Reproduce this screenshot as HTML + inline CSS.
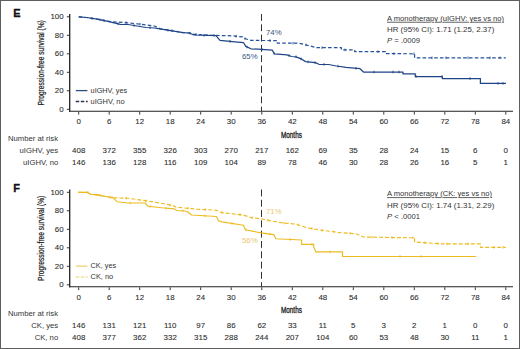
<!DOCTYPE html>
<html><head><meta charset="utf-8"><style>
html,body{margin:0;padding:0;background:#fff;}
body{width:520px;height:349px;overflow:hidden;}
svg{display:block;font-family:"Liberation Sans", sans-serif;}
text{paint-order:stroke;}
text[fill="#2a2a2a"]{stroke:#2a2a2a;stroke-width:0.08px;}
</style></head><body>
<svg width="520" height="349" viewBox="0 0 520 349">
<rect x="0" y="0" width="520" height="349" fill="#fff"/>
<rect x="0.5" y="0.5" width="519" height="348" fill="none" stroke="#5e5e5e" stroke-width="1"/>
<text x="13.2" y="16.8" font-size="11" font-weight="bold" fill="#111" stroke="#111" stroke-width="0.3">E</text>
<line x1="69.7" y1="14.0" x2="69.7" y2="111.8" stroke="#222" stroke-width="1.3"/>
<line x1="69" y1="111.3" x2="513" y2="111.3" stroke="#222" stroke-width="1.1"/>
<line x1="66.8" y1="16.8" x2="69.5" y2="16.8" stroke="#222" stroke-width="0.9"/>
<text x="63.6" y="19.4" font-size="7.9" text-anchor="end" fill="#2a2a2a">100</text>
<line x1="66.8" y1="35.3" x2="69.5" y2="35.3" stroke="#222" stroke-width="0.9"/>
<text x="63.6" y="37.9" font-size="7.9" text-anchor="end" fill="#2a2a2a">80</text>
<line x1="66.8" y1="53.8" x2="69.5" y2="53.8" stroke="#222" stroke-width="0.9"/>
<text x="63.6" y="56.4" font-size="7.9" text-anchor="end" fill="#2a2a2a">60</text>
<line x1="66.8" y1="72.3" x2="69.5" y2="72.3" stroke="#222" stroke-width="0.9"/>
<text x="63.6" y="74.9" font-size="7.9" text-anchor="end" fill="#2a2a2a">40</text>
<line x1="66.8" y1="90.8" x2="69.5" y2="90.8" stroke="#222" stroke-width="0.9"/>
<text x="63.6" y="93.4" font-size="7.9" text-anchor="end" fill="#2a2a2a">20</text>
<line x1="66.8" y1="109.3" x2="69.5" y2="109.3" stroke="#222" stroke-width="0.9"/>
<text x="63.6" y="111.9" font-size="7.9" text-anchor="end" fill="#2a2a2a">0</text>
<line x1="78.7" y1="111.8" x2="78.7" y2="114.6" stroke="#222" stroke-width="0.9"/>
<text x="78.7" y="124.4" font-size="7.9" text-anchor="middle" fill="#2a2a2a">0</text>
<line x1="109.2" y1="111.8" x2="109.2" y2="114.6" stroke="#222" stroke-width="0.9"/>
<text x="109.2" y="124.4" font-size="7.9" text-anchor="middle" fill="#2a2a2a">6</text>
<line x1="139.7" y1="111.8" x2="139.7" y2="114.6" stroke="#222" stroke-width="0.9"/>
<text x="139.7" y="124.4" font-size="7.9" text-anchor="middle" fill="#2a2a2a">12</text>
<line x1="170.2" y1="111.8" x2="170.2" y2="114.6" stroke="#222" stroke-width="0.9"/>
<text x="170.2" y="124.4" font-size="7.9" text-anchor="middle" fill="#2a2a2a">18</text>
<line x1="200.7" y1="111.8" x2="200.7" y2="114.6" stroke="#222" stroke-width="0.9"/>
<text x="200.7" y="124.4" font-size="7.9" text-anchor="middle" fill="#2a2a2a">24</text>
<line x1="231.2" y1="111.8" x2="231.2" y2="114.6" stroke="#222" stroke-width="0.9"/>
<text x="231.2" y="124.4" font-size="7.9" text-anchor="middle" fill="#2a2a2a">30</text>
<line x1="261.8" y1="111.8" x2="261.8" y2="114.6" stroke="#222" stroke-width="0.9"/>
<text x="261.8" y="124.4" font-size="7.9" text-anchor="middle" fill="#2a2a2a">36</text>
<line x1="292.3" y1="111.8" x2="292.3" y2="114.6" stroke="#222" stroke-width="0.9"/>
<text x="292.3" y="124.4" font-size="7.9" text-anchor="middle" fill="#2a2a2a">42</text>
<line x1="322.8" y1="111.8" x2="322.8" y2="114.6" stroke="#222" stroke-width="0.9"/>
<text x="322.8" y="124.4" font-size="7.9" text-anchor="middle" fill="#2a2a2a">48</text>
<line x1="353.3" y1="111.8" x2="353.3" y2="114.6" stroke="#222" stroke-width="0.9"/>
<text x="353.3" y="124.4" font-size="7.9" text-anchor="middle" fill="#2a2a2a">54</text>
<line x1="383.8" y1="111.8" x2="383.8" y2="114.6" stroke="#222" stroke-width="0.9"/>
<text x="383.8" y="124.4" font-size="7.9" text-anchor="middle" fill="#2a2a2a">60</text>
<line x1="414.3" y1="111.8" x2="414.3" y2="114.6" stroke="#222" stroke-width="0.9"/>
<text x="414.3" y="124.4" font-size="7.9" text-anchor="middle" fill="#2a2a2a">66</text>
<line x1="444.8" y1="111.8" x2="444.8" y2="114.6" stroke="#222" stroke-width="0.9"/>
<text x="444.8" y="124.4" font-size="7.9" text-anchor="middle" fill="#2a2a2a">72</text>
<line x1="475.3" y1="111.8" x2="475.3" y2="114.6" stroke="#222" stroke-width="0.9"/>
<text x="475.3" y="124.4" font-size="7.9" text-anchor="middle" fill="#2a2a2a">78</text>
<line x1="505.8" y1="111.8" x2="505.8" y2="114.6" stroke="#222" stroke-width="0.9"/>
<text x="505.8" y="124.4" font-size="7.9" text-anchor="middle" fill="#2a2a2a">84</text>
<text x="280.9" y="137.6" font-size="9.6" fill="#222" stroke="#222" stroke-width="0.35" textLength="21" lengthAdjust="spacingAndGlyphs">Months</text>
<text x="0" y="0" font-size="8.8" fill="#222" stroke="#222" stroke-width="0.22" textLength="85.2" lengthAdjust="spacingAndGlyphs" transform="translate(44.1 105.4) rotate(-90)">Progression-free survival (%)</text>
<line x1="261.5" y1="14.0" x2="261.5" y2="111.0" stroke="#333" stroke-width="1" stroke-dasharray="6.9 3.4"/>
<polyline points="78.7,16.8 86.6,17.5 97.2,19.2 104.6,20.7 111.0,21.7 128.0,22.8 146.0,24.9 154.5,26.0 159.7,28.6 183.0,32.6 189.5,33.0 193.8,34.3 211.7,35.3 232.0,35.8 242.6,36.9 244.7,38.5 251.0,40.4 277.3,40.6 277.3,43.2 299.2,43.2 316.5,47.6 341.4,47.7 341.4,49.9 354.7,49.9 354.7,51.7 385.6,51.7 385.6,53.6 414.6,53.8 414.6,57.8 505.8,57.8" fill="none" stroke="#26529a" stroke-width="1.2" stroke-dasharray="3.6 2.2" stroke-linejoin="round"/>
<polyline points="78.7,16.8 86.6,17.5 97.2,19.2 104.6,20.7 120.4,24.3 128.0,24.5 146.0,27.5 154.5,28.0 159.7,28.8 183.0,32.6 189.5,33.0 193.8,35.0 216.0,35.6 220.0,40.3 235.0,41.9 243.6,42.7 245.8,46.4 251.0,48.8 272.2,50.1 274.3,53.8 287.0,54.9 291.6,56.5 296.0,56.8 301.8,59.2 305.6,61.6 315.2,62.6 319.0,64.3 328.7,64.5 336.4,66.0 346.0,67.4 360.0,68.7 363.5,72.0 403.0,72.0 403.0,73.9 415.3,73.9 415.3,76.5 442.3,76.5 442.3,78.5 480.4,78.5 480.4,83.4 506.0,83.4" fill="none" stroke="#1f4586" stroke-width="1.25" stroke-linejoin="round"/>
<line x1="92.0" y1="17.1" x2="92.0" y2="19.7" stroke="#1f4586" stroke-width="0.9"/>
<line x1="104.0" y1="19.3" x2="104.0" y2="21.9" stroke="#1f4586" stroke-width="0.9"/>
<line x1="118.0" y1="22.5" x2="118.0" y2="25.1" stroke="#1f4586" stroke-width="0.9"/>
<line x1="134.0" y1="24.2" x2="134.0" y2="26.8" stroke="#1f4586" stroke-width="0.9"/>
<line x1="150.0" y1="26.4" x2="150.0" y2="29.0" stroke="#1f4586" stroke-width="0.9"/>
<line x1="168.0" y1="28.9" x2="168.0" y2="31.5" stroke="#1f4586" stroke-width="0.9"/>
<line x1="190.0" y1="31.9" x2="190.0" y2="34.5" stroke="#1f4586" stroke-width="0.9"/>
<line x1="204.0" y1="34.0" x2="204.0" y2="36.6" stroke="#1f4586" stroke-width="0.9"/>
<line x1="230.0" y1="40.1" x2="230.0" y2="42.7" stroke="#1f4586" stroke-width="0.9"/>
<line x1="247.0" y1="45.7" x2="247.0" y2="48.3" stroke="#1f4586" stroke-width="0.9"/>
<line x1="262.0" y1="48.2" x2="262.0" y2="50.8" stroke="#1f4586" stroke-width="0.9"/>
<line x1="274.0" y1="52.0" x2="274.0" y2="54.6" stroke="#1f4586" stroke-width="0.9"/>
<line x1="289.0" y1="54.3" x2="289.0" y2="56.9" stroke="#1f4586" stroke-width="0.9"/>
<line x1="296.0" y1="55.5" x2="296.0" y2="58.1" stroke="#1f4586" stroke-width="0.9"/>
<line x1="301.0" y1="57.6" x2="301.0" y2="60.2" stroke="#1f4586" stroke-width="0.9"/>
<line x1="308.0" y1="60.6" x2="308.0" y2="63.1" stroke="#1f4586" stroke-width="0.9"/>
<line x1="315.0" y1="61.3" x2="315.0" y2="63.9" stroke="#1f4586" stroke-width="0.9"/>
<line x1="324.0" y1="63.1" x2="324.0" y2="65.7" stroke="#1f4586" stroke-width="0.9"/>
<line x1="338.0" y1="64.9" x2="338.0" y2="67.5" stroke="#1f4586" stroke-width="0.9"/>
<line x1="356.0" y1="67.0" x2="356.0" y2="69.6" stroke="#1f4586" stroke-width="0.9"/>
<line x1="374.0" y1="70.7" x2="374.0" y2="73.3" stroke="#1f4586" stroke-width="0.9"/>
<line x1="393.0" y1="70.7" x2="393.0" y2="73.3" stroke="#1f4586" stroke-width="0.9"/>
<line x1="399.0" y1="70.7" x2="399.0" y2="73.3" stroke="#1f4586" stroke-width="0.9"/>
<line x1="416.0" y1="75.2" x2="416.0" y2="77.8" stroke="#1f4586" stroke-width="0.9"/>
<line x1="442.0" y1="75.2" x2="442.0" y2="77.8" stroke="#1f4586" stroke-width="0.9"/>
<line x1="470.0" y1="77.2" x2="470.0" y2="79.8" stroke="#1f4586" stroke-width="0.9"/>
<line x1="498.0" y1="82.1" x2="498.0" y2="84.7" stroke="#1f4586" stroke-width="0.9"/>
<line x1="503.0" y1="82.1" x2="503.0" y2="84.7" stroke="#1f4586" stroke-width="0.9"/>
<line x1="100.0" y1="18.5" x2="100.0" y2="21.1" stroke="#26529a" stroke-width="0.9"/>
<line x1="126.0" y1="21.4" x2="126.0" y2="24.0" stroke="#26529a" stroke-width="0.9"/>
<line x1="140.0" y1="22.9" x2="140.0" y2="25.5" stroke="#26529a" stroke-width="0.9"/>
<line x1="172.0" y1="29.4" x2="172.0" y2="32.0" stroke="#26529a" stroke-width="0.9"/>
<line x1="196.0" y1="33.1" x2="196.0" y2="35.7" stroke="#26529a" stroke-width="0.9"/>
<line x1="214.0" y1="34.1" x2="214.0" y2="36.7" stroke="#26529a" stroke-width="0.9"/>
<line x1="236.0" y1="34.9" x2="236.0" y2="37.5" stroke="#26529a" stroke-width="0.9"/>
<line x1="245.0" y1="37.3" x2="245.0" y2="39.9" stroke="#26529a" stroke-width="0.9"/>
<line x1="270.0" y1="39.2" x2="270.0" y2="41.8" stroke="#26529a" stroke-width="0.9"/>
<line x1="293.0" y1="41.9" x2="293.0" y2="44.5" stroke="#26529a" stroke-width="0.9"/>
<line x1="306.0" y1="43.6" x2="306.0" y2="46.2" stroke="#26529a" stroke-width="0.9"/>
<line x1="322.0" y1="46.3" x2="322.0" y2="48.9" stroke="#26529a" stroke-width="0.9"/>
<line x1="345.0" y1="48.6" x2="345.0" y2="51.2" stroke="#26529a" stroke-width="0.9"/>
<line x1="378.0" y1="50.4" x2="378.0" y2="53.0" stroke="#26529a" stroke-width="0.9"/>
<line x1="394.0" y1="52.4" x2="394.0" y2="55.0" stroke="#26529a" stroke-width="0.9"/>
<line x1="414.0" y1="52.5" x2="414.0" y2="55.1" stroke="#26529a" stroke-width="0.9"/>
<line x1="432.0" y1="56.5" x2="432.0" y2="59.1" stroke="#26529a" stroke-width="0.9"/>
<line x1="446.0" y1="56.5" x2="446.0" y2="59.1" stroke="#26529a" stroke-width="0.9"/>
<line x1="468.0" y1="56.5" x2="468.0" y2="59.1" stroke="#26529a" stroke-width="0.9"/>
<line x1="490.0" y1="56.5" x2="490.0" y2="59.1" stroke="#26529a" stroke-width="0.9"/>
<line x1="500.0" y1="56.5" x2="500.0" y2="59.1" stroke="#26529a" stroke-width="0.9"/>
<text x="266" y="34.8" font-size="7.8" fill="#3d5478">74%</text>
<text x="242" y="59.4" font-size="7.8" fill="#375a8a">65%</text>
<line x1="75.8" y1="90.6" x2="87.4" y2="90.6" stroke="#2c4f80" stroke-width="1.3"/>
<line x1="75.7" y1="101.5" x2="87.7" y2="101.5" stroke="#283650" stroke-width="1.3" stroke-dasharray="3.5 1.6"/>
<text x="90.6" y="92.9" font-size="7.6" fill="#333"  textLength="36.6" lengthAdjust="spacingAndGlyphs">uIGHV, yes</text>
<text x="90.6" y="103.9" font-size="7.6" fill="#333"  textLength="34" lengthAdjust="spacingAndGlyphs">uIGHV, no</text>
<text x="387" y="20.8" font-size="7.6" fill="#333" text-decoration="underline">A monotherapy (uIGHV: yes vs no)</text>
<text x="387" y="32.2" font-size="7.7" fill="#333" textLength="107.3" lengthAdjust="spacingAndGlyphs">HR (95% CI): 1.71 (1.25, 2.37)</text>
<text x="387" y="43.2" font-size="7.7" fill="#333"><tspan font-style="italic">P</tspan> = .0009</text>
<text x="8" y="140.6" font-size="7.7" fill="#333">Number at risk</text>
<text x="58.2" y="152.8" font-size="7.7" text-anchor="end" fill="#333">uIGHV, yes</text>
<text x="58.2" y="164.6" font-size="7.7" text-anchor="end" fill="#333">uIGHV, no</text>
<text x="78.7" y="152.8" font-size="7.9" text-anchor="middle" fill="#2a2a2a">408</text>
<text x="109.2" y="152.8" font-size="7.9" text-anchor="middle" fill="#2a2a2a">372</text>
<text x="139.7" y="152.8" font-size="7.9" text-anchor="middle" fill="#2a2a2a">355</text>
<text x="170.2" y="152.8" font-size="7.9" text-anchor="middle" fill="#2a2a2a">326</text>
<text x="200.7" y="152.8" font-size="7.9" text-anchor="middle" fill="#2a2a2a">303</text>
<text x="231.2" y="152.8" font-size="7.9" text-anchor="middle" fill="#2a2a2a">270</text>
<text x="261.8" y="152.8" font-size="7.9" text-anchor="middle" fill="#2a2a2a">217</text>
<text x="292.3" y="152.8" font-size="7.9" text-anchor="middle" fill="#2a2a2a">162</text>
<text x="322.8" y="152.8" font-size="7.9" text-anchor="middle" fill="#2a2a2a">69</text>
<text x="353.3" y="152.8" font-size="7.9" text-anchor="middle" fill="#2a2a2a">35</text>
<text x="383.8" y="152.8" font-size="7.9" text-anchor="middle" fill="#2a2a2a">28</text>
<text x="414.3" y="152.8" font-size="7.9" text-anchor="middle" fill="#2a2a2a">24</text>
<text x="444.8" y="152.8" font-size="7.9" text-anchor="middle" fill="#2a2a2a">15</text>
<text x="475.3" y="152.8" font-size="7.9" text-anchor="middle" fill="#2a2a2a">6</text>
<text x="505.8" y="152.8" font-size="7.9" text-anchor="middle" fill="#2a2a2a">0</text>
<text x="78.7" y="164.6" font-size="7.9" text-anchor="middle" fill="#2a2a2a">146</text>
<text x="109.2" y="164.6" font-size="7.9" text-anchor="middle" fill="#2a2a2a">136</text>
<text x="139.7" y="164.6" font-size="7.9" text-anchor="middle" fill="#2a2a2a">128</text>
<text x="170.2" y="164.6" font-size="7.9" text-anchor="middle" fill="#2a2a2a">116</text>
<text x="200.7" y="164.6" font-size="7.9" text-anchor="middle" fill="#2a2a2a">109</text>
<text x="231.2" y="164.6" font-size="7.9" text-anchor="middle" fill="#2a2a2a">104</text>
<text x="261.8" y="164.6" font-size="7.9" text-anchor="middle" fill="#2a2a2a">89</text>
<text x="292.3" y="164.6" font-size="7.9" text-anchor="middle" fill="#2a2a2a">78</text>
<text x="322.8" y="164.6" font-size="7.9" text-anchor="middle" fill="#2a2a2a">46</text>
<text x="353.3" y="164.6" font-size="7.9" text-anchor="middle" fill="#2a2a2a">30</text>
<text x="383.8" y="164.6" font-size="7.9" text-anchor="middle" fill="#2a2a2a">28</text>
<text x="414.3" y="164.6" font-size="7.9" text-anchor="middle" fill="#2a2a2a">26</text>
<text x="444.8" y="164.6" font-size="7.9" text-anchor="middle" fill="#2a2a2a">16</text>
<text x="475.3" y="164.6" font-size="7.9" text-anchor="middle" fill="#2a2a2a">5</text>
<text x="505.8" y="164.6" font-size="7.9" text-anchor="middle" fill="#2a2a2a">1</text>
<text x="13.2" y="192.3" font-size="11" font-weight="bold" fill="#111" stroke="#111" stroke-width="0.3">F</text>
<line x1="69.7" y1="189.5" x2="69.7" y2="287.3" stroke="#222" stroke-width="1.3"/>
<line x1="69" y1="286.8" x2="513" y2="286.8" stroke="#222" stroke-width="1.1"/>
<line x1="66.8" y1="192.3" x2="69.5" y2="192.3" stroke="#222" stroke-width="0.9"/>
<text x="63.6" y="194.9" font-size="7.9" text-anchor="end" fill="#2a2a2a">100</text>
<line x1="66.8" y1="210.8" x2="69.5" y2="210.8" stroke="#222" stroke-width="0.9"/>
<text x="63.6" y="213.4" font-size="7.9" text-anchor="end" fill="#2a2a2a">80</text>
<line x1="66.8" y1="229.3" x2="69.5" y2="229.3" stroke="#222" stroke-width="0.9"/>
<text x="63.6" y="231.9" font-size="7.9" text-anchor="end" fill="#2a2a2a">60</text>
<line x1="66.8" y1="247.8" x2="69.5" y2="247.8" stroke="#222" stroke-width="0.9"/>
<text x="63.6" y="250.4" font-size="7.9" text-anchor="end" fill="#2a2a2a">40</text>
<line x1="66.8" y1="266.3" x2="69.5" y2="266.3" stroke="#222" stroke-width="0.9"/>
<text x="63.6" y="268.9" font-size="7.9" text-anchor="end" fill="#2a2a2a">20</text>
<line x1="66.8" y1="284.8" x2="69.5" y2="284.8" stroke="#222" stroke-width="0.9"/>
<text x="63.6" y="287.4" font-size="7.9" text-anchor="end" fill="#2a2a2a">0</text>
<line x1="78.7" y1="287.3" x2="78.7" y2="290.1" stroke="#222" stroke-width="0.9"/>
<text x="78.7" y="299.9" font-size="7.9" text-anchor="middle" fill="#2a2a2a">0</text>
<line x1="109.2" y1="287.3" x2="109.2" y2="290.1" stroke="#222" stroke-width="0.9"/>
<text x="109.2" y="299.9" font-size="7.9" text-anchor="middle" fill="#2a2a2a">6</text>
<line x1="139.7" y1="287.3" x2="139.7" y2="290.1" stroke="#222" stroke-width="0.9"/>
<text x="139.7" y="299.9" font-size="7.9" text-anchor="middle" fill="#2a2a2a">12</text>
<line x1="170.2" y1="287.3" x2="170.2" y2="290.1" stroke="#222" stroke-width="0.9"/>
<text x="170.2" y="299.9" font-size="7.9" text-anchor="middle" fill="#2a2a2a">18</text>
<line x1="200.7" y1="287.3" x2="200.7" y2="290.1" stroke="#222" stroke-width="0.9"/>
<text x="200.7" y="299.9" font-size="7.9" text-anchor="middle" fill="#2a2a2a">24</text>
<line x1="231.2" y1="287.3" x2="231.2" y2="290.1" stroke="#222" stroke-width="0.9"/>
<text x="231.2" y="299.9" font-size="7.9" text-anchor="middle" fill="#2a2a2a">30</text>
<line x1="261.8" y1="287.3" x2="261.8" y2="290.1" stroke="#222" stroke-width="0.9"/>
<text x="261.8" y="299.9" font-size="7.9" text-anchor="middle" fill="#2a2a2a">36</text>
<line x1="292.3" y1="287.3" x2="292.3" y2="290.1" stroke="#222" stroke-width="0.9"/>
<text x="292.3" y="299.9" font-size="7.9" text-anchor="middle" fill="#2a2a2a">42</text>
<line x1="322.8" y1="287.3" x2="322.8" y2="290.1" stroke="#222" stroke-width="0.9"/>
<text x="322.8" y="299.9" font-size="7.9" text-anchor="middle" fill="#2a2a2a">48</text>
<line x1="353.3" y1="287.3" x2="353.3" y2="290.1" stroke="#222" stroke-width="0.9"/>
<text x="353.3" y="299.9" font-size="7.9" text-anchor="middle" fill="#2a2a2a">54</text>
<line x1="383.8" y1="287.3" x2="383.8" y2="290.1" stroke="#222" stroke-width="0.9"/>
<text x="383.8" y="299.9" font-size="7.9" text-anchor="middle" fill="#2a2a2a">60</text>
<line x1="414.3" y1="287.3" x2="414.3" y2="290.1" stroke="#222" stroke-width="0.9"/>
<text x="414.3" y="299.9" font-size="7.9" text-anchor="middle" fill="#2a2a2a">66</text>
<line x1="444.8" y1="287.3" x2="444.8" y2="290.1" stroke="#222" stroke-width="0.9"/>
<text x="444.8" y="299.9" font-size="7.9" text-anchor="middle" fill="#2a2a2a">72</text>
<line x1="475.3" y1="287.3" x2="475.3" y2="290.1" stroke="#222" stroke-width="0.9"/>
<text x="475.3" y="299.9" font-size="7.9" text-anchor="middle" fill="#2a2a2a">78</text>
<line x1="505.8" y1="287.3" x2="505.8" y2="290.1" stroke="#222" stroke-width="0.9"/>
<text x="505.8" y="299.9" font-size="7.9" text-anchor="middle" fill="#2a2a2a">84</text>
<text x="280.9" y="313.1" font-size="9.6" fill="#222" stroke="#222" stroke-width="0.35" textLength="21" lengthAdjust="spacingAndGlyphs">Months</text>
<text x="0" y="0" font-size="8.8" fill="#222" stroke="#222" stroke-width="0.22" textLength="85.2" lengthAdjust="spacingAndGlyphs" transform="translate(44.1 280.9) rotate(-90)">Progression-free survival (%)</text>
<line x1="261.5" y1="189.5" x2="261.5" y2="286.5" stroke="#333" stroke-width="1" stroke-dasharray="6.9 3.4"/>
<polyline points="78.2,192.4 87.6,192.4 90.8,194.3 97.2,194.9 105.6,196.5 113.0,197.7 128.0,198.3 147.0,200.9 159.7,203.0 173.5,205.7 176.0,207.2 197.3,209.2 216.5,210.2 222.3,212.7 230.0,213.5 243.5,215.1 252.0,217.8 261.0,218.7 273.0,221.3 283.5,223.0 295.0,224.0 302.7,226.2 307.0,227.8 320.0,230.0 340.0,232.6 355.8,233.7 363.5,237.0 395.0,237.6 414.6,237.8 414.6,242.0 441.0,243.8 480.4,243.8 480.4,247.3 505.8,247.3" fill="none" stroke="#ecbb22" stroke-width="1.15" stroke-dasharray="4 2" stroke-linejoin="round"/>
<polyline points="78.2,192.4 87.6,192.4 90.8,194.3 97.2,194.9 105.6,196.5 113.0,197.7 117.3,201.8 128.0,203.0 145.0,203.0 148.0,206.2 161.9,207.8 174.6,208.9 176.7,210.5 185.0,211.0 188.0,212.0 191.5,215.0 216.5,216.5 218.5,220.8 222.0,221.9 243.5,225.2 245.3,229.8 261.0,232.9 273.8,234.6 275.8,238.8 297.0,239.8 301.6,240.0 301.6,244.4 313.7,244.4 313.7,247.0 316.0,251.9 342.5,251.9 342.5,256.5 476.2,256.5" fill="none" stroke="#ecbb22" stroke-width="1.15" stroke-linejoin="round"/>
<line x1="88.0" y1="191.3" x2="88.0" y2="193.9" stroke="#ecbb22" stroke-width="0.9"/>
<line x1="100.0" y1="194.1" x2="100.0" y2="196.7" stroke="#ecbb22" stroke-width="0.9"/>
<line x1="112.0" y1="196.2" x2="112.0" y2="198.8" stroke="#ecbb22" stroke-width="0.9"/>
<line x1="130.0" y1="201.7" x2="130.0" y2="204.3" stroke="#ecbb22" stroke-width="0.9"/>
<line x1="150.0" y1="205.1" x2="150.0" y2="207.7" stroke="#ecbb22" stroke-width="0.9"/>
<line x1="166.0" y1="206.9" x2="166.0" y2="209.5" stroke="#ecbb22" stroke-width="0.9"/>
<line x1="183.0" y1="209.6" x2="183.0" y2="212.2" stroke="#ecbb22" stroke-width="0.9"/>
<line x1="205.0" y1="214.5" x2="205.0" y2="217.1" stroke="#ecbb22" stroke-width="0.9"/>
<line x1="232.0" y1="222.1" x2="232.0" y2="224.7" stroke="#ecbb22" stroke-width="0.9"/>
<line x1="246.0" y1="228.6" x2="246.0" y2="231.2" stroke="#ecbb22" stroke-width="0.9"/>
<line x1="270.0" y1="232.8" x2="270.0" y2="235.4" stroke="#ecbb22" stroke-width="0.9"/>
<line x1="290.0" y1="238.2" x2="290.0" y2="240.8" stroke="#ecbb22" stroke-width="0.9"/>
<line x1="312.0" y1="243.1" x2="312.0" y2="245.7" stroke="#ecbb22" stroke-width="0.9"/>
<line x1="330.0" y1="250.6" x2="330.0" y2="253.2" stroke="#ecbb22" stroke-width="0.9"/>
<line x1="400.0" y1="255.2" x2="400.0" y2="257.8" stroke="#ecbb22" stroke-width="0.9"/>
<line x1="421.0" y1="255.2" x2="421.0" y2="257.8" stroke="#ecbb22" stroke-width="0.9"/>
<line x1="96.0" y1="193.5" x2="96.0" y2="196.1" stroke="#ecbb22" stroke-width="0.9"/>
<line x1="110.0" y1="195.9" x2="110.0" y2="198.5" stroke="#ecbb22" stroke-width="0.9"/>
<line x1="126.0" y1="196.9" x2="126.0" y2="199.5" stroke="#ecbb22" stroke-width="0.9"/>
<line x1="146.0" y1="199.5" x2="146.0" y2="202.1" stroke="#ecbb22" stroke-width="0.9"/>
<line x1="170.0" y1="203.7" x2="170.0" y2="206.3" stroke="#ecbb22" stroke-width="0.9"/>
<line x1="188.0" y1="207.0" x2="188.0" y2="209.6" stroke="#ecbb22" stroke-width="0.9"/>
<line x1="205.0" y1="208.3" x2="205.0" y2="210.9" stroke="#ecbb22" stroke-width="0.9"/>
<line x1="222.0" y1="211.3" x2="222.0" y2="213.9" stroke="#ecbb22" stroke-width="0.9"/>
<line x1="240.0" y1="213.4" x2="240.0" y2="216.0" stroke="#ecbb22" stroke-width="0.9"/>
<line x1="252.0" y1="216.5" x2="252.0" y2="219.1" stroke="#ecbb22" stroke-width="0.9"/>
<line x1="268.0" y1="218.9" x2="268.0" y2="221.5" stroke="#ecbb22" stroke-width="0.9"/>
<line x1="284.0" y1="221.7" x2="284.0" y2="224.3" stroke="#ecbb22" stroke-width="0.9"/>
<line x1="298.0" y1="223.6" x2="298.0" y2="226.2" stroke="#ecbb22" stroke-width="0.9"/>
<line x1="312.0" y1="227.3" x2="312.0" y2="229.9" stroke="#ecbb22" stroke-width="0.9"/>
<line x1="322.0" y1="229.0" x2="322.0" y2="231.6" stroke="#ecbb22" stroke-width="0.9"/>
<line x1="334.0" y1="230.5" x2="334.0" y2="233.1" stroke="#ecbb22" stroke-width="0.9"/>
<line x1="350.0" y1="232.0" x2="350.0" y2="234.6" stroke="#ecbb22" stroke-width="0.9"/>
<line x1="372.0" y1="235.9" x2="372.0" y2="238.5" stroke="#ecbb22" stroke-width="0.9"/>
<line x1="392.0" y1="236.2" x2="392.0" y2="238.8" stroke="#ecbb22" stroke-width="0.9"/>
<line x1="413.0" y1="236.5" x2="413.0" y2="239.1" stroke="#ecbb22" stroke-width="0.9"/>
<line x1="425.0" y1="241.4" x2="425.0" y2="244.0" stroke="#ecbb22" stroke-width="0.9"/>
<line x1="438.0" y1="242.3" x2="438.0" y2="244.9" stroke="#ecbb22" stroke-width="0.9"/>
<line x1="447.0" y1="242.5" x2="447.0" y2="245.1" stroke="#ecbb22" stroke-width="0.9"/>
<line x1="468.0" y1="242.5" x2="468.0" y2="245.1" stroke="#ecbb22" stroke-width="0.9"/>
<line x1="494.0" y1="246.0" x2="494.0" y2="248.6" stroke="#ecbb22" stroke-width="0.9"/>
<line x1="503.0" y1="246.0" x2="503.0" y2="248.6" stroke="#ecbb22" stroke-width="0.9"/>
<text x="266" y="214.0" font-size="7.8" fill="#ecc870">71%</text>
<text x="242" y="242.6" font-size="7.8" fill="#ecc870">56%</text>
<line x1="75.8" y1="266.1" x2="87.4" y2="266.1" stroke="#e9c545" stroke-width="1.0"/>
<line x1="75.7" y1="277.0" x2="87.7" y2="277.0" stroke="#e6cf6a" stroke-width="1.0" stroke-dasharray="3.5 1.6"/>
<text x="90.6" y="268.4" font-size="7.6" fill="#333"  textLength="25.6" lengthAdjust="spacingAndGlyphs">CK, yes</text>
<text x="90.6" y="279.4" font-size="7.6" fill="#333"  textLength="22.6" lengthAdjust="spacingAndGlyphs">CK, no</text>
<text x="387" y="196.3" font-size="7.6" fill="#333" text-decoration="underline">A monotherapy (CK: yes vs no)</text>
<text x="387" y="207.7" font-size="7.7" fill="#333" textLength="107.3" lengthAdjust="spacingAndGlyphs">HR (95% CI): 1.74 (1.31, 2.29)</text>
<text x="387" y="218.7" font-size="7.7" fill="#333"><tspan font-style="italic">P</tspan> &lt; .0001</text>
<text x="8" y="316.1" font-size="7.7" fill="#333">Number at risk</text>
<text x="58.2" y="328.3" font-size="7.7" text-anchor="end" fill="#333">CK, yes</text>
<text x="58.2" y="340.1" font-size="7.7" text-anchor="end" fill="#333">CK, no</text>
<text x="78.7" y="328.3" font-size="7.9" text-anchor="middle" fill="#2a2a2a">146</text>
<text x="109.2" y="328.3" font-size="7.9" text-anchor="middle" fill="#2a2a2a">131</text>
<text x="139.7" y="328.3" font-size="7.9" text-anchor="middle" fill="#2a2a2a">121</text>
<text x="170.2" y="328.3" font-size="7.9" text-anchor="middle" fill="#2a2a2a">110</text>
<text x="200.7" y="328.3" font-size="7.9" text-anchor="middle" fill="#2a2a2a">97</text>
<text x="231.2" y="328.3" font-size="7.9" text-anchor="middle" fill="#2a2a2a">86</text>
<text x="261.8" y="328.3" font-size="7.9" text-anchor="middle" fill="#2a2a2a">62</text>
<text x="292.3" y="328.3" font-size="7.9" text-anchor="middle" fill="#2a2a2a">33</text>
<text x="322.8" y="328.3" font-size="7.9" text-anchor="middle" fill="#2a2a2a">11</text>
<text x="353.3" y="328.3" font-size="7.9" text-anchor="middle" fill="#2a2a2a">5</text>
<text x="383.8" y="328.3" font-size="7.9" text-anchor="middle" fill="#2a2a2a">3</text>
<text x="414.3" y="328.3" font-size="7.9" text-anchor="middle" fill="#2a2a2a">2</text>
<text x="444.8" y="328.3" font-size="7.9" text-anchor="middle" fill="#2a2a2a">1</text>
<text x="475.3" y="328.3" font-size="7.9" text-anchor="middle" fill="#2a2a2a">0</text>
<text x="505.8" y="328.3" font-size="7.9" text-anchor="middle" fill="#2a2a2a">0</text>
<text x="78.7" y="340.1" font-size="7.9" text-anchor="middle" fill="#2a2a2a">408</text>
<text x="109.2" y="340.1" font-size="7.9" text-anchor="middle" fill="#2a2a2a">377</text>
<text x="139.7" y="340.1" font-size="7.9" text-anchor="middle" fill="#2a2a2a">362</text>
<text x="170.2" y="340.1" font-size="7.9" text-anchor="middle" fill="#2a2a2a">332</text>
<text x="200.7" y="340.1" font-size="7.9" text-anchor="middle" fill="#2a2a2a">315</text>
<text x="231.2" y="340.1" font-size="7.9" text-anchor="middle" fill="#2a2a2a">288</text>
<text x="261.8" y="340.1" font-size="7.9" text-anchor="middle" fill="#2a2a2a">244</text>
<text x="292.3" y="340.1" font-size="7.9" text-anchor="middle" fill="#2a2a2a">207</text>
<text x="322.8" y="340.1" font-size="7.9" text-anchor="middle" fill="#2a2a2a">104</text>
<text x="353.3" y="340.1" font-size="7.9" text-anchor="middle" fill="#2a2a2a">60</text>
<text x="383.8" y="340.1" font-size="7.9" text-anchor="middle" fill="#2a2a2a">53</text>
<text x="414.3" y="340.1" font-size="7.9" text-anchor="middle" fill="#2a2a2a">48</text>
<text x="444.8" y="340.1" font-size="7.9" text-anchor="middle" fill="#2a2a2a">30</text>
<text x="475.3" y="340.1" font-size="7.9" text-anchor="middle" fill="#2a2a2a">11</text>
<text x="505.8" y="340.1" font-size="7.9" text-anchor="middle" fill="#2a2a2a">1</text>
</svg>
</body></html>
